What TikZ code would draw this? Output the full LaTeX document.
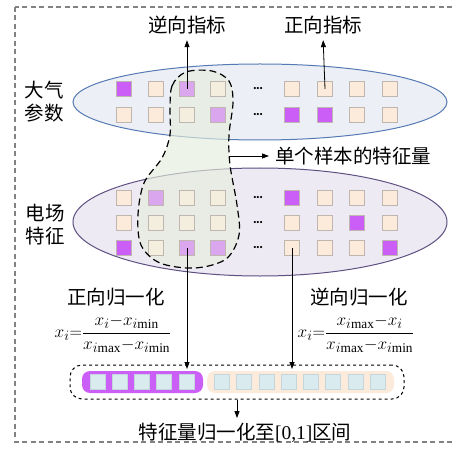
\documentclass[tikz,border=0pt]{standalone}
\usepackage{fontspec}
\setmainfont{Liberation Serif}
\newfontfamily\cjk{Noto Sans CJK SC}
\usetikzlibrary{arrows.meta,shapes.geometric}
\definecolor{cP}{RGB}{204,94,248}
\definecolor{cL}{RGB}{218,166,238}
\definecolor{cE}{RGB}{252,234,218}
\definecolor{cB}{RGB}{243,238,221}
\definecolor{sqb}{RGB}{190,182,175}
\definecolor{topfill}{RGB}{236,240,246}
\definecolor{topdraw}{RGB}{86,122,180}
\definecolor{botfill}{RGB}{238,234,243}
\definecolor{botdraw}{RGB}{95,80,130}
\definecolor{blobc}{RGB}{230,238,222}
\definecolor{barsq}{RGB}{218,235,240}
\definecolor{barsqb}{RGB}{196,214,220}
\definecolor{frame}{RGB}{130,130,130}
\newcommand{\mx}{\mathrm{max}}
\newcommand{\mn}{\mathrm{min}}
\begin{document}
\begin{tikzpicture}[x=1pt,y=-1pt,
  sqr/.style={draw=sqb,line width=0.8pt,minimum size=14.5pt,inner sep=0pt,fill=#1},
  bsq/.style={draw=barsqb,line width=0.8pt,minimum size=14.5pt,inner sep=0pt,fill=barsq},
  arr/.style={line width=0.8pt,-{Triangle[length=7pt,width=5pt]}},
  lbl/.style={font=\cjk\fontsize{19.5}{23}\selectfont,inner sep=2pt},
  frm/.style={font=\fontsize{19}{22}\selectfont,inner sep=1pt},
  dots/.style={font=\fontsize{9}{9}\selectfont,inner sep=0pt}]
\useasboundingbox (0,0) rectangle (454,454);
\clip (0,0) rectangle (454,454);
\fill[white] (0,0) rectangle (454,454);
\draw[frame,line width=1.2pt,dash pattern=on 5pt off 3.5pt] (15,7) rectangle (470,442);
% ellipses
\node[ellipse,draw=topdraw,fill=topfill,line width=1pt,minimum width=374pt,minimum height=76pt,inner sep=0pt] (topell) at (260,102) {};
\node[ellipse,draw=botdraw,fill=botfill,line width=1pt,minimum width=374pt,minimum height=108pt,inner sep=0pt] (botell) at (260,222) {};
% blob fill
\fill[blobc,fill opacity=0.65] plot[smooth cycle,tension=0.55] coordinates {(170,112) (172,86) (186,72) (212,71) (229,81) (233,102) (229,135) (230,165) (237,205) (239,235) (226,259) (195,268) (160,263) (141,245) (138,215) (144,183) (162,158) (170,135)};
% squares
\foreach \n/\x/\y/\c in {
 t11/124/89/cP, t12/156/89/cE, t13/187/89/cL, t14/218/89/cB, t15/292/89/cE, t16/325/89/cE, t17/357/89/cE, t18/390/89/cE,
 t21/124/115/cE, t22/156/115/cE, t23/187/115/cB, t24/218/115/cL, t25/292/115/cP, t26/325/115/cP, t27/357/115/cE, t28/390/115/cE,
 b11/124/198/cE, b12/156/198/cL, b13/187/198/cB, b14/218/198/cB, b15/292/198/cP, b16/325/198/cE, b17/357/198/cE, b18/390/198/cE,
 b21/124/223/cE, b22/156/223/cB, b23/187/223/cB, b24/218/223/cB, b25/292/223/cE, b26/325/223/cE, b27/357/223/cP, b28/390/223/cE,
 b31/124/248/cP, b32/156/248/cB, b33/187/248/cL, b34/218/248/cL, b35/292/248/cE, b36/325/248/cE, b37/357/248/cE, b38/390/248/cP}
 {\node[sqr=\c] (\n) at (\x,\y) {};}
\foreach \n/\y in {d1/89,d2/115,d3/198,d4/223,d5/248}
 {\node[dots] (\n) at (258,\y) {\textbullet\textbullet\textbullet};}
% blob outline
\draw[line width=1.2pt,dash pattern=on 7pt off 4pt] plot[smooth cycle,tension=0.55] coordinates {(170,112) (172,86) (186,72) (212,71) (229,81) (233,102) (229,135) (230,165) (237,205) (239,235) (226,259) (195,268) (160,263) (141,245) (138,215) (144,183) (162,158) (170,135)};
% labels
\node[lbl] (inv) at (187,25) {逆向指标};
\node[lbl] (pos) at (323,25) {正向指标};
\draw[arr,shorten >=4pt] (t13.center) -- (inv.south);
\draw[arr,shorten >=4pt] (t16.center) -- (pos.south);
\node[lbl,align=center] (atm) at (44,101.5) {大气\\参数};
\node[lbl,align=center] (ele) at (45,225) {电场\\特征};
\coordinate (blobR) at (229,156);
\node[lbl,anchor=west] (samp) at (273,156) {单个样本的特征量};
\draw[arr,shorten >=4pt] (blobR) -- (samp.west);
% normalisation
\node[lbl] (pn) at (116,297) {正向归一化};
\node[lbl] (nn) at (359,297) {逆向归一化};
\node[frm] (pf) at (113,334) {$\displaystyle x_i{=}\frac{x_i{-}x_{i\mn}}{x_{i\mx}{-}x_{i\mn}}$};
\node[frm] (nf) at (356,334) {$\displaystyle x_i{=}\frac{x_{i\mx}{-}x_i}{x_{i\mx}{-}x_{i\mn}}$};
% bar
\node[draw,dashed,line width=1pt,rounded corners=12pt,minimum width=334pt,minimum height=34pt,inner sep=0pt] (bar) at (237,382) {};
\node[fill=cP,rounded corners=8pt,minimum width=121pt,minimum height=22pt,inner sep=0pt] (pbar) at (142.5,382) {};
\node[fill=cE,rounded corners=8pt,minimum width=187pt,minimum height=22pt,inner sep=0pt] (ebar) at (300.5,382) {};
\foreach \n/\x in {q1/98,q2/120,q3/142,q4/164,q5/187,q6/222,q7/244,q8/267,q9/289,q10/311,q11/333,q12/356,q13/378}
 {\node[bsq] (\n) at (\x,382) {};}
\coordinate (inA) at (187,369);
\coordinate (inB) at (292,369);
\draw[arr] (b33.center) -- (inA);
\draw[arr] (b35.center) -- (inB);
\node[lbl] (res) at (245,433) {特征量归一化至{\rmfamily[0,1]}区间};
\draw[arr,shorten >=3pt] (bar.south) -- (bar.south |- res.north);
\end{tikzpicture}
\end{document}
